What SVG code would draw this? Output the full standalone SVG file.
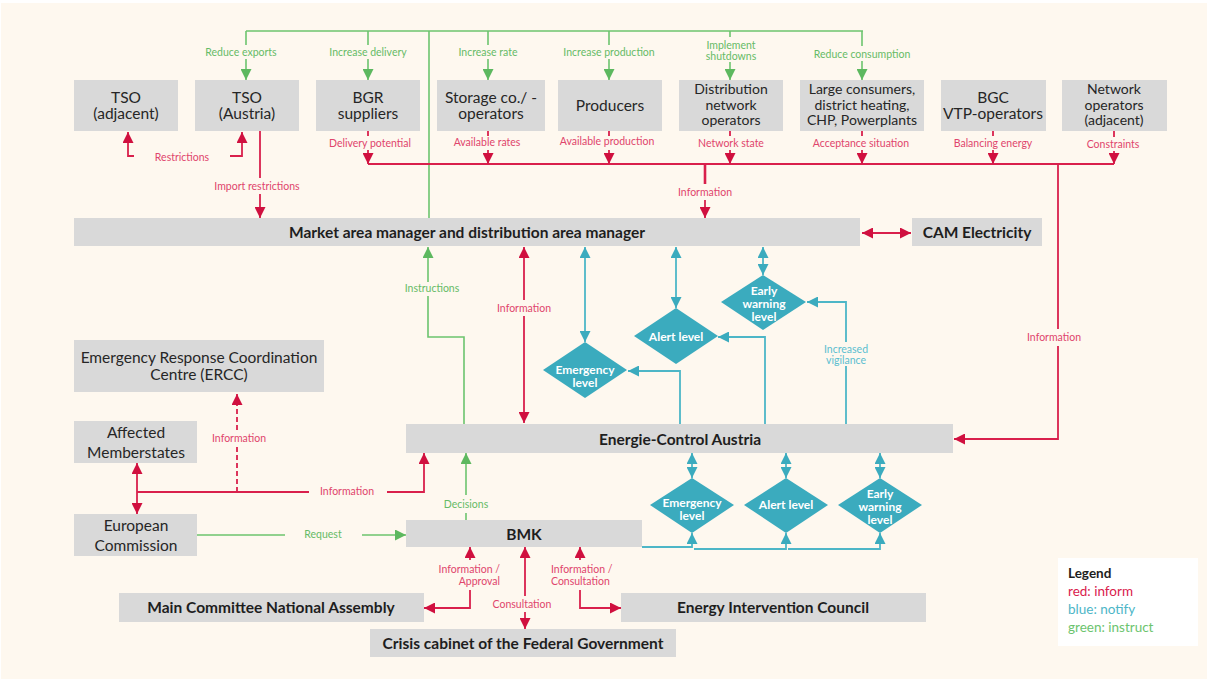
<svg xmlns="http://www.w3.org/2000/svg" width="1208" height="680" viewBox="0 0 1208 680">
<defs>
<style>
.box{fill:#D9D9D9}
.t{font-family:Lato,"Open Sans","Liberation Sans",sans-serif;font-size:15.5px;fill:#262626;text-anchor:middle;dominant-baseline:central}
.t3{font-family:Lato,"Open Sans","Liberation Sans",sans-serif;font-size:14px;fill:#262626;text-anchor:middle;dominant-baseline:central}
.tb{font-family:Lato,"Open Sans","Liberation Sans",sans-serif;font-size:15.5px;font-weight:bold;fill:#1E1E1E;text-anchor:middle;dominant-baseline:central}
.dt{font-family:Lato,"Open Sans","Liberation Sans",sans-serif;font-size:12px;font-weight:bold;fill:#FFFFFF;text-anchor:middle;dominant-baseline:central}
.lr,.lg,.lb{font-family:Lato,"Open Sans","Liberation Sans",sans-serif;font-size:10.5px;text-anchor:middle;dominant-baseline:central}
.lr{fill:#E0456C}.lg{fill:#66BB66}.lb{fill:#5BBECF}
.r{stroke:#D9204C;stroke-width:1.8;fill:none}
.g{stroke:#6CC46E;stroke-width:1.6;fill:none}
.b{stroke:#4DB6C7;stroke-width:1.8;fill:none}
.dia{fill:#3BABBE}
.ra{marker-end:url(#ar)}.ga{marker-end:url(#ag)}.ba{marker-end:url(#ab)}
.rd{marker-start:url(#ar);marker-end:url(#ar)}
.bd{marker-start:url(#ab);marker-end:url(#ab)}
.lt{font-family:Lato,"Open Sans","Liberation Sans",sans-serif;font-size:13.5px}
</style>
<marker id="ar" viewBox="0 0 10 10" refX="10" refY="5" markerWidth="11" markerHeight="11" markerUnits="userSpaceOnUse" orient="auto-start-reverse"><path d="M0,0 L10,5 L0,10 z" fill="#D0103F"/></marker>
<marker id="ag" viewBox="0 0 10 10" refX="10" refY="5" markerWidth="11" markerHeight="11" markerUnits="userSpaceOnUse" orient="auto-start-reverse"><path d="M0,0 L10,5 L0,10 z" fill="#5DB85F"/></marker>
<marker id="ab" viewBox="0 0 10 10" refX="10" refY="5" markerWidth="11" markerHeight="11" markerUnits="userSpaceOnUse" orient="auto-start-reverse"><path d="M0,0 L10,5 L0,10 z" fill="#3BABBE"/></marker>
</defs>
<rect x="0" y="0" width="1208" height="680" fill="#FFFFFF"/>
<rect x="1" y="3" width="1206" height="676" fill="#FEF8EF"/>

<g id="connectors">
<!-- green top -->
<path class="g" d="M246,31 H863"/>
<path class="g" d="M429,31 V218"/>
<path class="g" d="M246,31 V45"/><path class="g ga" d="M246,59 V80"/>
<path class="g" d="M368,31 V45"/><path class="g ga" d="M368,59 V80"/>
<path class="g" d="M488,31 V45"/><path class="g ga" d="M488,59 V80"/>
<path class="g" d="M609,31 V45"/><path class="g ga" d="M609,59 V80"/>
<path class="g" d="M730,31 V37"/><path class="g ga" d="M730,62 V80"/>
<path class="g" d="M862,31 V46"/><path class="g ga" d="M862,61 V80"/>
<!-- red top -->
<path class="r" d="M368,164 H1114"/>
<path class="r" d="M368,131 V136"/><path class="r ra" d="M368,150 V164"/>
<path class="r" d="M488,131 V136"/><path class="r ra" d="M488,150 V164"/>
<path class="r" d="M609,131 V136"/><path class="r ra" d="M609,150 V164"/>
<path class="r" d="M730,131 V136"/><path class="r ra" d="M730,150 V164"/>
<path class="r" d="M862,131 V136"/><path class="r ra" d="M862,150 V164"/>
<path class="r" d="M993,131 V136"/><path class="r ra" d="M993,150 V164"/>
<path class="r" d="M1114,131 V137"/><path class="r ra" d="M1114,151 V164"/>
<path class="r" d="M705,164 V184" style="stroke-width:2.6"/><path class="r ra" d="M705,200 V218"/>
<path class="r" d="M1058,164 V329"/><path class="r ra" d="M1058,346 V439 H954"/>
<path class="r" d="M260,131 V178"/><path class="r ra" d="M260,194 V218"/>
<path class="r ra" d="M134,156 H128 V132"/>
<path class="r ra" d="M230,156 H242 V132"/>
<path class="r rd" d="M862,233 H911"/>
<!-- middle -->
<path class="g" d="M464,424 V337 H428 V296"/><path class="g ga" d="M428,282 V247"/>
<path class="r ra" d="M524,300 V247"/><path class="r ra" d="M524,316 V423"/>
<path class="b bd" d="M585,247 V342"/>
<path class="b bd" d="M676,247 V308"/>
<path class="b bd" d="M763,247 V275"/>
<path class="b ba" d="M680,424 V371 H628"/>
<path class="b ba" d="M765,424 V337 H718"/>
<path class="b" d="M846,424 V366"/><path class="b ba" d="M846,342 V302 H807"/>
<path class="b bd" d="M692,453 V478"/>
<path class="b bd" d="M786,453 V478"/>
<path class="b bd" d="M880,453 V478"/>
<path class="b ba" d="M642,547 H692 V533"/>
<path class="b ba" d="M694,549 H786 V533"/>
<path class="b ba" d="M788,549 H880 V533"/>
<!-- left -->
<path class="r rd" d="M137,463 V514"/>
<path class="r" d="M137,492 H309"/><path class="r ra" d="M387,492 H424 V453"/>
<path class="r" d="M237,492 V447" stroke-dasharray="5,3"/><path class="r ra" d="M237,430 V394" stroke-dasharray="5,3"/>
<path class="g" d="M197,535 H285"/><path class="g ga" d="M362,535 H406"/>
<path class="g" d="M466,520 V513"/><path class="g ga" d="M466,495 V453"/>
<!-- bottom -->
<path class="r ra" d="M470,560 V547"/><path class="r ra" d="M470,590 V608 H424"/>
<path class="r ra" d="M525,596 V547"/><path class="r ra" d="M525,612 V629"/>
<path class="r ra" d="M580,560 V547"/><path class="r ra" d="M580,590 V608 H621"/>
<!-- connector labels -->
<text class="lg" x="241" y="52">Reduce exports</text>
<text class="lg" x="368" y="52">Increase delivery</text>
<text class="lg" x="488" y="52">Increase rate</text>
<text class="lg" x="609" y="52">Increase production</text>
<text class="lg" x="731" y="45">Implement</text>
<text class="lg" x="731" y="56">shutdowns</text>
<text class="lg" x="862" y="54">Reduce consumption</text>
<text class="lr" x="370" y="143">Delivery potential</text>
<text class="lr" x="487" y="142">Available rates</text>
<text class="lr" x="607" y="141">Available production</text>
<text class="lr" x="731" y="143">Network state</text>
<text class="lr" x="861" y="143">Acceptance situation</text>
<text class="lr" x="993" y="143">Balancing energy</text>
<text class="lr" x="1113" y="144">Constraints</text>
<text class="lr" x="182" y="157">Restrictions</text>
<text class="lr" x="257" y="186">Import restrictions</text>
<text class="lr" x="705" y="192">Information</text>
<text class="lr" x="1054" y="337">Information</text>
<text class="lg" x="432" y="288">Instructions</text>
<text class="lr" x="524" y="308">Information</text>
<text class="lb" x="846" y="349">Increased</text>
<text class="lb" x="846" y="360">vigilance</text>
<text class="lr" x="239" y="438">Information</text>
<text class="lr" x="347" y="491">Information</text>
<text class="lg" x="323" y="534">Request</text>
<text class="lg" x="466" y="504">Decisions</text>
<text class="lr" x="500" y="569" style="text-anchor:end">Information  /</text>
<text class="lr" x="500" y="581" style="text-anchor:end">Approval</text>
<text class="lr" x="522" y="604">Consultation</text>
<text class="lr" x="551" y="569" style="text-anchor:start">Information  /</text>
<text class="lr" x="551" y="581" style="text-anchor:start">Consultation</text>
</g>

<g id="tso-adjacent"><rect class="box" x="74" y="80" width="104" height="51"/><text class="t" x="126" y="97">TSO</text><text class="t" x="126" y="113">(adjacent)</text></g>
<g id="tso-austria"><rect class="box" x="195" y="80" width="104" height="51"/><text class="t" x="247" y="97">TSO</text><text class="t" x="247" y="113">(Austria)</text></g>
<g id="bgr-suppliers"><rect class="box" x="316" y="80" width="104" height="51"/><text class="t" x="368" y="97">BGR</text><text class="t" x="368" y="113">suppliers</text></g>
<g id="storage"><rect class="box" x="437" y="80" width="108" height="51"/><text class="t" x="491" y="97">Storage co./ -</text><text class="t" x="491" y="113">operators</text></g>
<g id="producers"><rect class="box" x="558" y="80" width="104" height="51"/><text class="t" x="610" y="105">Producers</text></g>
<g id="distribution"><rect class="box" x="679" y="80" width="104" height="51"/><text class="t3" x="731" y="88.5">Distribution</text><text class="t3" x="731" y="104">network</text><text class="t3" x="731" y="119.5">operators</text></g>
<g id="large-consumers"><rect class="box" x="800" y="80" width="124" height="51"/><text class="t3" x="862" y="88.5">Large consumers,</text><text class="t3" x="862" y="104">district heating,</text><text class="t3" x="862" y="119.5">CHP, Powerplants</text></g>
<g id="bgc"><rect class="box" x="941" y="80" width="105" height="51"/><text class="t" x="993" y="97">BGC</text><text class="t" x="993" y="113">VTP-operators</text></g>
<g id="network-operators"><rect class="box" x="1062" y="80" width="105" height="51"/><text class="t3" x="1114" y="88.5">Network</text><text class="t3" x="1114" y="104">operators</text><text class="t3" x="1114" y="119.5">(adjacent)</text></g>

<g id="mam"><rect class="box" x="74" y="218" width="786" height="28"/><text class="tb" x="467" y="232">Market area manager and distribution area manager</text></g>
<g id="cam"><rect class="box" x="912" y="218" width="130" height="28"/><text class="tb" x="977" y="232">CAM Electricity</text></g>

<g id="emergency-up"><polygon class="dia" points="585,342 627,370 585,398 543,370"/><text class="dt" x="585" y="369">Emergency</text><text class="dt" x="585" y="382">level</text></g>
<g id="alert-up"><polygon class="dia" points="676,308 718,336 676,364 634,336"/><text class="dt" x="676" y="336">Alert level</text></g>
<g id="early-up"><polygon class="dia" points="763,275 806,302 763,330 721,302"/><text class="dt" x="764" y="290">Early</text><text class="dt" x="764" y="303">warning</text><text class="dt" x="764" y="316">level</text></g>

<g id="ercc"><rect class="box" x="74" y="340" width="250" height="52"/><text class="t" x="199" y="357">Emergency  Response Coordination</text><text class="t" x="199" y="374">Centre  (ERCC)</text></g>
<g id="affected"><rect class="box" x="74" y="421" width="123" height="42"/><text class="t" x="136" y="432">Affected</text><text class="t" x="136" y="452">Memberstates</text></g>
<g id="eca"><rect class="box" x="406" y="424" width="547" height="29"/><text class="tb" x="680" y="439">Energie-Control Austria</text></g>

<g id="emergency-down"><polygon class="dia" points="692,478 734,505 692,533 650,505"/><text class="dt" x="692" y="502">Emergency</text><text class="dt" x="692" y="515">level</text></g>
<g id="alert-down"><polygon class="dia" points="786,478 828,505 786,533 744,505"/><text class="dt" x="786" y="504">Alert level</text></g>
<g id="early-down"><polygon class="dia" points="880,478 922,505 880,533 838,505"/><text class="dt" x="880" y="493">Early</text><text class="dt" x="880" y="506">warning</text><text class="dt" x="880" y="519">level</text></g>

<g id="ec"><rect class="box" x="74" y="514" width="123" height="42"/><text class="t" x="136" y="525">European</text><text class="t" x="136" y="545">Commission</text></g>
<g id="bmk"><rect class="box" x="406" y="520" width="236" height="27"/><text class="tb" x="524" y="534">BMK</text></g>
<g id="main-committee"><rect class="box" x="119" y="593" width="305" height="29"/><text class="tb" x="271" y="607">Main  Committee National  Assembly</text></g>
<g id="eic"><rect class="box" x="621" y="593" width="305" height="29"/><text class="tb" x="773" y="607">Energy Intervention Council</text></g>
<g id="crisis"><rect class="box" x="370" y="629" width="306" height="28"/><text class="tb" x="523" y="643">Crisis cabinet of the Federal Government</text></g>

<g id="legend"><rect x="1058" y="558" width="140" height="88" fill="#FFFFFF"/>
<text class="lt" x="1068" y="578" font-weight="bold" fill="#1E1E1E">Legend</text>
<text class="lt" x="1068" y="596" fill="#D9204C">red: inform</text>
<text class="lt" x="1068" y="614" fill="#4DB6C7">blue: notify</text>
<text class="lt" x="1068" y="632" fill="#6CC46E">green: instruct</text></g>
</svg>
